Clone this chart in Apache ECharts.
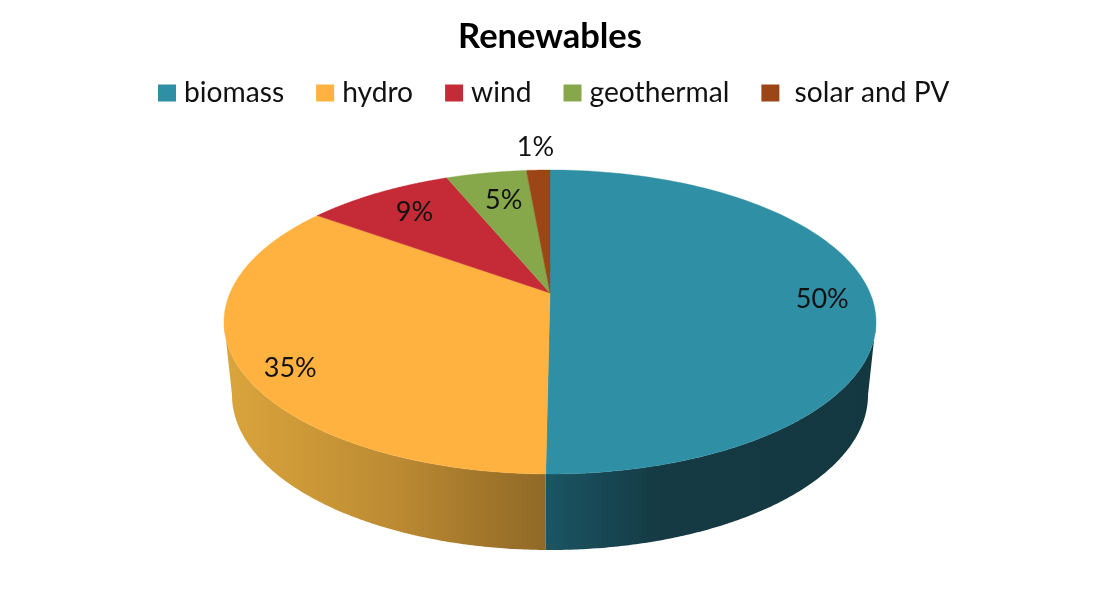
<!DOCTYPE html>
<html>
<head>
<meta charset="utf-8">
<style>html,body{margin:0;padding:0;background:#fff}#c{width:1100px;height:604px}</style>
<script src="https://cdn.jsdelivr.net/npm/echarts@6/dist/echarts.min.js"></script>
</head>
<body>
<div id="c"></div>
<script>
const chartTitle = 'Renewables';
const categories = ['biomass', 'hydro', 'wind', 'geothermal', ' solar and PV'];
const shares = [50.17, 34.83, 8.8, 4.8, 1.4];
const colors = ['#2E8FA5', '#FFB23F', '#C42B36', '#86A84A', '#9C4517'];
const wallGradients = [
  [[0, '#1B5564'], [0.35, '#153A43'], [1, '#133840']],
  [[0, '#DBA53C'], [0.5, '#BE8C33'], [1, '#906927']],
  null, null, null
];
const labelReach = [0.85, 0.85, 0.8, 0.85, 1.15];
const labelNudge = [[0, 1], [6, 10], [2, -6], [8, 5], [-1, 0]];

// tilted disc geometry
const upperFace = { cx: 550, cy: 322, rx: 326, ry: 152 };
const lowerFace = { cx: 550, cy: 395, rx: 318, ry: 155 };
const apexY = 293;
const tilt = (apexY - upperFace.cy) / upperFace.ry;
const skew = Math.sqrt((1 + tilt) / (1 - tilt));

// true angle on the disc -> angle on the drawn ellipse (perspective)
function persp(t) {
  if (Math.abs(t - Math.PI) < 1e-9) return t;
  const half = t / 2;
  let r = Math.atan(skew * Math.tan(half)) * 2;
  if (half > Math.PI / 2) r += Math.PI * 2;
  return r;
}
const at = (e, a) => [e.cx + e.rx * Math.sin(a), e.cy - e.ry * Math.cos(a)];
const total = shares.reduce((a, b) => a + b, 0);

function renderSlice(index) {
  const before = shares.slice(0, index).reduce((a, b) => a + b, 0);
  const a0 = persp(before / total * Math.PI * 2);
  const a1 = persp((before + shares[index]) / total * Math.PI * 2);
  const mid = persp((before + shares[index] / 2) / total * Math.PI * 2);
  const n = 160;
  const kids = [];

  // side wall: the part of the slice on the near half of the disc
  const w0 = Math.max(a0, Math.PI / 2), w1 = Math.min(a1, Math.PI * 1.5);
  if (w1 > w0 && wallGradients[index]) {
    const tp = [], bt = [];
    for (let i = 0; i <= n; i++) {
      const a = w0 + (w1 - w0) * i / n;
      tp.push(at(upperFace, a));
      bt.push(at(lowerFace, a));
    }
    const xs = tp.concat(bt).map(p => p[0]);
    const minX = Math.min(...xs), maxX = Math.max(...xs);
    kids.push({
      type: 'polygon',
      shape: { points: tp.concat(bt.reverse()) },
      style: {
        fill: {
          type: 'linear', x: minX, y: 0, x2: maxX, y2: 0, global: true,
          colorStops: wallGradients[index].map(s => ({ offset: s[0], color: s[1] }))
        }
      }
    });
  }

  // top face
  const pts = [[upperFace.cx, apexY]];
  for (let i = 0; i <= n; i++) pts.push(at(upperFace, a0 + (a1 - a0) * i / n));
  kids.push({ type: 'polygon', shape: { points: pts }, style: { fill: colors[index], stroke: colors[index], lineWidth: 0.4 } });

  // percentage label
  const reach = labelReach[index];
  kids.push({
    type: 'text',
    z2: 10,
    style: {
      x: upperFace.cx + upperFace.rx * Math.sin(mid) * reach + labelNudge[index][0],
      y: upperFace.cy - upperFace.ry * Math.cos(mid) * reach + labelNudge[index][1],
      text: Math.round(shares[index] / total * 100) + '%',
      fill: '#111',
      font: '27px Lato',
      align: 'center',
      verticalAlign: 'middle'
    }
  });
  return { type: 'group', children: kids };
}

const chart = echarts.init(document.getElementById('c'), null, { renderer: 'canvas' });
chart.setOption({
  animation: false,
  backgroundColor: '#fff',
  title: {
    text: chartTitle,
    left: 'center',
    top: 14,
    textStyle: { fontFamily: 'Lato', fontWeight: 'bold', fontSize: 34.5, color: '#000' }
  },
  legend: {
    data: categories,
    top: 74,
    left: 153,
    icon: 'rect',
    itemWidth: 18,
    itemHeight: 17,
    itemGap: 32,
    textStyle: { fontFamily: 'Lato', fontSize: 28.2, color: '#111', padding: [0, 0, 0, 3] }
  },
  series: categories.map((name, index) => ({
    type: 'custom',
    name,
    coordinateSystem: 'none',
    itemStyle: { color: colors[index] },
    data: [shares[index]],
    silent: true,
    renderItem: () => renderSlice(index)
  }))
});
</script>
</body>
</html>
